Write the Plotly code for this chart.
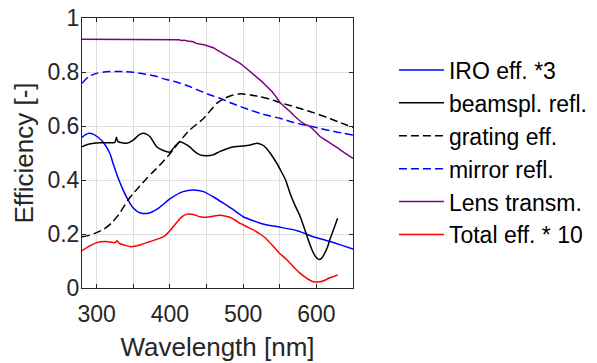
import plotly.graph_objects as go

# ---- data ----
lens_wl = [280, 350, 408, 412, 416, 420, 424, 428, 432, 436, 440, 444, 448, 452, 456, 460, 464, 468, 472,
           476, 480, 484, 488, 492, 496, 500, 505, 510, 515, 520, 525, 530, 535, 540, 545, 550, 555, 560,
           565, 570, 575, 580, 585, 590, 595, 600, 605, 610, 615, 620, 625, 630, 635, 640, 645, 650]
lens_val = [0.921, 0.921, 0.921, 0.919, 0.917, 0.918, 0.915, 0.914, 0.912, 0.906, 0.903, 0.902, 0.900,
            0.896, 0.893, 0.889, 0.882, 0.876, 0.871, 0.865, 0.859, 0.853, 0.846, 0.840, 0.832, 0.823,
            0.812, 0.801, 0.790, 0.778, 0.766, 0.753, 0.740, 0.726, 0.708, 0.688, 0.675, 0.664, 0.651,
            0.637, 0.624, 0.613, 0.606, 0.600, 0.589, 0.574, 0.561, 0.552, 0.544, 0.535, 0.526, 0.517,
            0.507, 0.497, 0.488, 0.480]

mirror_wl = [280, 290, 300, 310, 325, 340, 350, 365, 380, 395, 410, 425, 441, 455, 468, 482, 496, 510,
             523, 537, 551, 564, 578, 592, 605, 620, 635, 650]
mirror_val = [0.758, 0.785, 0.795, 0.800, 0.802, 0.801, 0.799, 0.793, 0.785, 0.772, 0.762, 0.748, 0.730,
              0.715, 0.703, 0.687, 0.672, 0.659, 0.647, 0.637, 0.628, 0.617, 0.607, 0.599, 0.591, 0.582,
              0.574, 0.567]

grating_wl = [280, 290, 300, 310, 320, 331, 343, 350, 359, 368, 377, 388, 400, 414, 427, 446, 464, 475,
              485, 496, 510, 523, 537, 551, 564, 578, 592, 605, 619, 633, 650]
grating_val = [0.190, 0.195, 0.205, 0.218, 0.240, 0.275, 0.327, 0.350, 0.378, 0.405, 0.430, 0.460, 0.497,
               0.545, 0.585, 0.628, 0.684, 0.703, 0.714, 0.719, 0.715, 0.708, 0.699, 0.686, 0.676, 0.665,
               0.653, 0.641, 0.627, 0.612, 0.595]

iro_wl = [280, 285, 290, 295, 300, 309, 318, 322, 329, 335, 341, 350, 357, 363, 373, 386, 400, 418, 432,
          446, 459, 473, 487, 500, 514, 530, 551, 574, 596, 619, 635, 650]
iro_val = [0.558, 0.568, 0.573, 0.570, 0.562, 0.540, 0.499, 0.465, 0.410, 0.370, 0.336, 0.296, 0.281,
           0.276, 0.279, 0.299, 0.330, 0.357, 0.363, 0.357, 0.338, 0.314, 0.289, 0.264, 0.249, 0.235,
           0.225, 0.212, 0.190, 0.172, 0.158, 0.144]

beam_wl = [280, 290, 304, 322, 325, 327, 329, 341, 350, 357, 363, 368, 373, 382, 391, 400, 407, 414, 420,
           427, 434, 441, 450, 459, 468, 478, 487, 500, 510, 519, 526, 532, 537, 546, 551, 558, 564, 571,
           578, 585, 589, 595, 599, 603, 607, 610, 615, 619, 624, 629]
beam_val = [0.523, 0.533, 0.538, 0.538, 0.540, 0.558, 0.542, 0.536, 0.548, 0.565, 0.573, 0.570, 0.560,
            0.523, 0.509, 0.503, 0.525, 0.542, 0.535, 0.523, 0.505, 0.493, 0.490, 0.493, 0.505, 0.516,
            0.523, 0.526, 0.530, 0.536, 0.530, 0.517, 0.499, 0.462, 0.437, 0.400, 0.351, 0.305, 0.264,
            0.210, 0.178, 0.135, 0.116, 0.106, 0.110, 0.122, 0.150, 0.184, 0.220, 0.258]

total_wl = [280, 290, 300, 313, 325, 328, 331, 340, 347, 359, 373, 386, 393, 400, 407, 414, 420, 425, 432,
            441, 450, 459, 468, 475, 482, 490, 496, 505, 514, 523, 530, 541, 550, 560, 569, 578, 587, 596,
            605, 611, 617, 623, 629]
total_val = [0.138, 0.155, 0.168, 0.172, 0.168, 0.175, 0.165, 0.157, 0.153, 0.159, 0.172, 0.184, 0.193,
             0.212, 0.235, 0.258, 0.270, 0.274, 0.272, 0.264, 0.262, 0.266, 0.269, 0.267, 0.262, 0.250,
             0.239, 0.227, 0.215, 0.200, 0.186, 0.155, 0.128, 0.104, 0.078, 0.054, 0.036, 0.023, 0.023,
             0.028, 0.036, 0.042, 0.048]

x_tickvals = [300, 350, 400, 450, 500, 550, 600, 650]
x_ticktext = ["300", "", "400", "", "500", "", "600", ""]
y_tickvals = [0, 0.2, 0.4, 0.6, 0.8, 1.0]
y_ticktext = ["0", "0.2", "0.4", "0.6", "0.8", "1"]

FONT = "Arial, Liberation Sans, sans-serif"
AX = "#262626"

fig = go.Figure()
fig.add_trace(go.Scatter(x=iro_wl, y=iro_val, name="IRO eff. *3", mode="lines",
                         line=dict(color="#0000ff", width=1.5, shape="spline", smoothing=0.6)))
fig.add_trace(go.Scatter(x=beam_wl, y=beam_val, name="beamspl. refl.", mode="lines",
                         line=dict(color="#000000", width=1.5, shape="spline", smoothing=0.5)))
fig.add_trace(go.Scatter(x=grating_wl, y=grating_val, name="grating eff.", mode="lines",
                         line=dict(color="#000000", width=1.5, dash="8px,4px", shape="spline", smoothing=0.6)))
fig.add_trace(go.Scatter(x=mirror_wl, y=mirror_val, name="mirror refl.", mode="lines",
                         line=dict(color="#0000ff", width=1.5, dash="8px,4px", shape="spline", smoothing=0.6)))
fig.add_trace(go.Scatter(x=lens_wl, y=lens_val, name="Lens transm.", mode="lines",
                         line=dict(color="#800080", width=1.5)))
fig.add_trace(go.Scatter(x=total_wl, y=total_val, name="Total eff. * 10", mode="lines",
                         line=dict(color="#ff0000", width=1.5, shape="spline", smoothing=0.5)))

fig.update_layout(
    width=597, height=363,
    margin=dict(l=82, r=244, t=18, b=75, autoexpand=False),
    paper_bgcolor="white", plot_bgcolor="white",
    font=dict(family=FONT, color=AX),
    showlegend=True,
    legend=dict(x=1.151, xanchor="left", y=0.887, yanchor="top",
                font=dict(family=FONT, size=23, color="black"),
                bgcolor="rgba(0,0,0,0)", itemwidth=45, tracegroupgap=0),
)
fig.update_xaxes(range=[280, 650], tickvals=x_tickvals, ticktext=x_ticktext, automargin=False,
                 ticks="inside", ticklen=4, tickcolor=AX, showline=True, linecolor=AX, linewidth=1,
                 mirror="ticks", showgrid=True, gridcolor="#dedede", gridwidth=1, zeroline=False,
                 tickfont=dict(size=23, color=AX, family=FONT), ticklabelstandoff=5,
                 title=dict(text="Wavelength [nm]", font=dict(size=26, color=AX, family=FONT), standoff=12))
fig.update_yaxes(range=[0, 1], tickvals=y_tickvals, ticktext=y_ticktext, automargin=False,
                 ticks="inside", ticklen=4, tickcolor=AX, showline=True, linecolor=AX, linewidth=1,
                 mirror="ticks", showgrid=True, gridcolor="#dedede", gridwidth=1, zeroline=False,
                 tickfont=dict(size=23, color=AX, family=FONT), ticklabelstandoff=-3,
                 title=dict(text="Efficiency [-]", font=dict(size=26, color=AX, family=FONT), standoff=6))

fig.write_html("out.html", config={"displayModeBar": False},
               post_script="document.body.style.margin='0';")
